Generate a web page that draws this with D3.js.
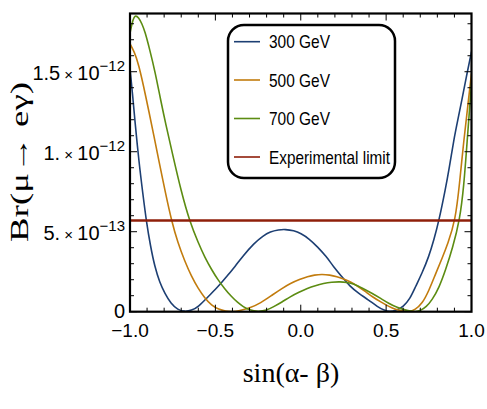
<!DOCTYPE html>
<html><head><meta charset="utf-8">
<script src="https://cdn.jsdelivr.net/npm/d3@7"></script>
<style>body{margin:0;background:#fff}svg{display:block}</style>
</head><body>
<svg id="c" width="487" height="409"></svg>
<script>
// values in units of 1e-12
const blueX = [-1.0,-0.985,-0.972,-0.947,-0.925,-0.904,-0.88,-0.855,-0.825,-0.796,-0.76,-0.72,-0.68,-0.64,-0.60,-0.543,-0.484,-0.43,-0.386,-0.337,-0.274,-0.22,-0.179,-0.13,-0.091,-0.04,0.0,0.05,0.098,0.15,0.192,0.24,0.29,0.339,0.398,0.45,0.49,0.52,0.56,0.60,0.64,0.672,0.71,0.75,0.78,0.808,0.848,0.87,0.896,0.92,0.945,0.97,1.0];
const blueY = [1.52,1.36,1.20,0.93,0.74,0.5625,0.41,0.281,0.18,0.115,0.05,0.012,0.0,0.008,0.03,0.094,0.156,0.225,0.281,0.35,0.4275,0.475,0.5,0.512,0.515,0.507,0.49,0.455,0.406,0.345,0.281,0.22,0.156,0.115,0.073,0.03,0.008,0.0,0.008,0.031,0.08,0.156,0.24,0.344,0.45,0.5625,0.77,0.90,1.073,1.2,1.33,1.47,1.625];
const orangeX = [-1.0,-0.975,-0.95,-0.91,-0.855,-0.832,-0.79,-0.758,-0.72,-0.679,-0.64,-0.601,-0.56,-0.523,-0.48,-0.44,-0.40,-0.36,-0.30,-0.237,-0.16,-0.11,-0.062,0.0,0.039,0.08,0.124,0.17,0.212,0.25,0.29,0.339,0.38,0.418,0.47,0.515,0.55,0.59,0.633,0.67,0.711,0.75,0.789,0.83,0.86,0.906,0.93,0.955,0.98,1.0];
const orangeY = [1.675,1.625,1.55,1.36,1.073,0.95,0.73,0.575,0.43,0.315,0.22,0.145,0.082,0.04,0.014,0.003,0.0,0.005,0.022,0.052,0.11,0.145,0.177,0.205,0.219,0.23,0.234,0.23,0.219,0.205,0.1875,0.156,0.125,0.094,0.06,0.033,0.016,0.004,0.0,0.012,0.05,0.13,0.235,0.34,0.42,0.573,0.8,1.073,1.3,1.49];
const greenX = [-1.0,-0.985,-0.97,-0.95,-0.93,-0.912,-0.885,-0.853,-0.82,-0.79,-0.754,-0.70,-0.65,-0.60,-0.562,-0.52,-0.484,-0.445,-0.406,-0.37,-0.337,-0.30,-0.25,-0.20,-0.16,-0.11,-0.062,-0.01,0.039,0.085,0.134,0.18,0.232,0.27,0.31,0.36,0.418,0.465,0.515,0.565,0.613,0.645,0.672,0.70,0.735,0.769,0.81,0.848,0.89,0.931,0.955,0.975,1.0];
const greenY = [1.74,1.82,1.855,1.84,1.80,1.75,1.64,1.50,1.32,1.17,1.0,0.75,0.5625,0.43,0.34,0.259,0.198,0.143,0.094,0.058,0.031,0.01,0.0,0.008,0.031,0.06,0.094,0.122,0.146,0.163,0.177,0.185,0.1875,0.183,0.175,0.148,0.115,0.085,0.052,0.026,0.01,0.003,0.0,0.006,0.03,0.073,0.15,0.26,0.40,0.573,0.78,1.073,1.43];
const expLimit = 0.57;
const seriesNames = ["300 GeV","500 GeV","700 GeV","Experimental limit"];
const seriesColors = ["#1d3f73","#c27c0e","#5c8c12","#8f1f0a"];
const xTicks = [-1.0,-0.5,0.0,0.5,1.0];
const xTickLabels = ["\u22121.0","\u22120.5","0.0","0.5","1.0"];
const yTicks = [0,0.5,1.0,1.5];
const yTickMant = ["0","5.","1.","1.5"];
const yTickExp = ["","\u221213","\u221212","\u221212"];

const svg = d3.select("#c");
const L=130, R=471.5, T=13.5, B=311.7;
const x = d3.scaleLinear().domain([-1,1]).range([L,R]);
const y = d3.scaleLinear().domain([0,1.864]).range([B,T]);

svg.append("defs").append("clipPath").attr("id","clip")
  .append("rect").attr("x",L).attr("y",T).attr("width",R-L).attr("height",B-T);

const line = d3.line().x(d=>x(d[0])).y(d=>y(d[1])).curve(d3.curveBasis);
const g = svg.append("g").attr("clip-path","url(#clip)");
[[blueX,blueY],[orangeX,orangeY],[greenX,greenY]].forEach((s,i)=>{
  g.append("path").datum(d3.zip(s[0],s[1])).attr("d",line)
   .attr("fill","none").attr("stroke",seriesColors[i]).attr("stroke-width",1.6);
});
g.append("path").datum([[-1,expLimit],[1,expLimit]]).attr("d",line)
  .attr("fill","none").attr("stroke",seriesColors[3]).attr("stroke-width",2.6);

// ticks (inside frame, all sides)
const xMinor = d3.range(-10,11).map(i=>i/10);
const yMinor = d3.range(0,19).map(i=>i/10);
const tk = svg.append("g").attr("stroke","#000").attr("stroke-width",1);
xMinor.forEach(v=>{
  const maj = Math.abs(v*2-Math.round(v*2))<1e-9;
  const len = maj?7:4;
  tk.append("line").attr("x1",x(v)).attr("x2",x(v)).attr("y1",B).attr("y2",B-len);
  tk.append("line").attr("x1",x(v)).attr("x2",x(v)).attr("y1",T).attr("y2",T+len);
});
yMinor.forEach(v=>{
  const maj = Math.abs(v*2-Math.round(v*2))<1e-9;
  const len = maj?7:4;
  tk.append("line").attr("y1",y(v)).attr("y2",y(v)).attr("x1",L).attr("x2",L+len);
  tk.append("line").attr("y1",y(v)).attr("y2",y(v)).attr("x1",R).attr("x2",R-len);
});
svg.append("rect").attr("x",L).attr("y",T).attr("width",R-L).attr("height",B-T)
  .attr("fill","none").attr("stroke","#000").attr("stroke-width",2.2);

// x tick labels
const sans = "'Liberation Sans', Arial, sans-serif";
svg.append("g").selectAll("text").data(xTicks).join("text")
  .attr("x",d=>x(d)).attr("y",B+25).attr("text-anchor","middle")
  .attr("font-family",sans).attr("font-size",19).attr("fill","#000")
  .text((d,i)=>xTickLabels[i]);

// y tick labels
yTicks.forEach((v,i)=>{
  const t = svg.append("text").attr("x",125).attr("y",y(v)+(i===0?6:8)).attr("text-anchor","end")
    .attr("font-family",sans).attr("font-size",20).attr("fill","#000");
  t.append("tspan").text(yTickMant[i]);
  if (yTickExp[i]) {
    t.append("tspan").attr("font-size",15).text(" \u00d7 ");
    t.append("tspan").text("10");
    t.append("tspan").attr("font-size",15).attr("dy",-9).text(yTickExp[i]);
  }
});

// axis titles
const serif = "'Liberation Serif','Times New Roman',serif";
svg.append("text").attr("x",291).attr("y",382).attr("text-anchor","middle")
  .attr("font-family",serif).attr("font-size",28).attr("fill","#000")
  .text("sin(\u03b1- \u03b2)");
svg.append("text").attr("transform","translate(28,162) rotate(-90)").attr("text-anchor","middle")
  .attr("font-family",serif).attr("font-size",25).attr("fill","#000")
  .attr("textLength",160).attr("lengthAdjust","spacingAndGlyphs")
  .text("Br(\u03bc\u2192 e\u03b3)");

// legend
const lg = svg.append("g");
lg.append("rect").attr("x",228).attr("y",25).attr("width",167).attr("height",153)
  .attr("rx",16).attr("ry",16).attr("fill","#fff").attr("stroke","#000").attr("stroke-width",2.5);
const ly = [41.7,80,118.5,157];
seriesNames.forEach((n,i)=>{
  lg.append("line").attr("x1",234).attr("x2",260).attr("y1",ly[i]).attr("y2",ly[i])
    .attr("stroke",seriesColors[i]).attr("stroke-width",1.6);
  const tw = [61,61,61,121][i];
  lg.append("text").attr("x",269).attr("y",ly[i]+6.5).attr("font-family",sans)
    .attr("font-size",19).attr("fill","#000")
    .attr("textLength",tw).attr("lengthAdjust","spacingAndGlyphs").text(n);
});
</script>
</body></html>
